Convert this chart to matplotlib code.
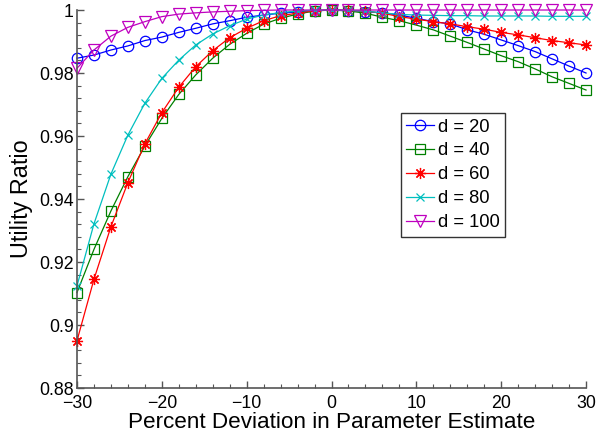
import matplotlib
matplotlib.use("Agg")
import matplotlib.pyplot as plt
from matplotlib.ticker import MultipleLocator, FixedLocator

plt.rcParams['font.family'] = ['Liberation Sans', 'DejaVu Sans']

# percent deviation in the parameter estimate
deviation = list(range(-30, 31, 2))

ratio_d20 = [0.9847, 0.9857, 0.9873, 0.9886, 0.9903, 0.9914, 0.9929, 0.9942,
             0.9956, 0.9966, 0.9977, 0.9984, 0.9990, 0.9994, 0.9998, 1.0000,
             0.9998, 0.9995, 0.9991, 0.9984, 0.9974, 0.9963, 0.9956, 0.9937,
             0.9923, 0.9905, 0.9887, 0.9868, 0.9845, 0.9822, 0.9800]
ratio_d40 = [0.9103, 0.9240, 0.9362, 0.9471, 0.9568, 0.9656, 0.9732, 0.9794,
             0.9847, 0.9891, 0.9926, 0.9955, 0.9974, 0.9987, 0.9997, 1.0000,
             0.9997, 0.9990, 0.9977, 0.9966, 0.9952, 0.9937, 0.9917, 0.9897,
             0.9876, 0.9855, 0.9836, 0.9813, 0.9788, 0.9767, 0.9746]
ratio_d60 = [0.8950, 0.9145, 0.9312, 0.9452, 0.9575, 0.9674, 0.9755, 0.9820,
             0.9871, 0.9912, 0.9942, 0.9966, 0.9982, 0.9990, 0.9998, 1.0000,
             0.9999, 0.9996, 0.9990, 0.9979, 0.9971, 0.9963, 0.9956, 0.9947,
             0.9939, 0.9929, 0.9921, 0.9912, 0.9903, 0.9896, 0.9889]
ratio_d80 = [0.9124, 0.9321, 0.9479, 0.9603, 0.9704, 0.9783, 0.9841, 0.9889,
             0.9924, 0.9950, 0.9971, 0.9984, 0.9992, 0.9997, 0.9999, 1.0000,
             0.9999, 0.9996, 0.9991, 0.9986, 0.9984, 0.9983, 0.9982, 0.9982,
             0.9981, 0.9981, 0.9981, 0.9981, 0.9980, 0.9980, 0.9980]
ratio_d100 = [0.9815, 0.9873, 0.9917, 0.9945, 0.9963, 0.9979, 0.9987, 0.9991,
              0.9994, 0.9996, 0.9998, 0.9999, 1.0000, 1.0000, 1.0000, 1.0000,
              1.0000, 1.0000, 1.0000, 1.0000, 1.0000, 1.0000, 1.0000, 1.0000,
              1.0000, 1.0000, 1.0000, 1.0000, 1.0000, 1.0000, 1.0000]

labels = ['d = 20', 'd = 40', 'd = 60', 'd = 80', 'd = 100']
series = [ratio_d20, ratio_d40, ratio_d60, ratio_d80, ratio_d100]
colors = ['#0000ff', '#008000', '#ff0000', '#00bfbf', '#bf00bf']
markers = ['o', 's', (8, 2, 0), 'x', 'v']
msizes = [7.5, 6.5, 8, 5.5, 8]

fig = plt.figure(figsize=(6.0, 4.37), dpi=100)
ax = fig.add_axes([0.1283, 0.1121, 0.8484, 0.8650])

for y, lab, c, m, ms in zip(series, labels, colors, markers, msizes):
    ax.plot(deviation, y, color=c, marker=m, markersize=ms, markerfacecolor='none',
            markeredgecolor=c, markeredgewidth=0.9, linewidth=0.9, label=lab,
            clip_on=False)

ax.set_xlim(-30, 30)
ax.set_ylim(0.88, 1.0)
ax.xaxis.set_major_locator(MultipleLocator(10))
ax.xaxis.set_minor_locator(MultipleLocator(2))
ax.yaxis.set_major_locator(FixedLocator([0.88, 0.9, 0.92, 0.94, 0.96, 0.98, 1.0]))
ax.yaxis.set_minor_locator(MultipleLocator(0.004))
ax.set_yticklabels(['0.88', '0.9', '0.92', '0.94', '0.96', '0.98', '1'])

for side in ('top', 'right'):
    ax.spines[side].set_visible(False)
for side in ('left', 'bottom'):
    ax.spines[side].set_color('#555555')
    ax.spines[side].set_linewidth(1.2)

ax.tick_params(which='both', direction='in', color='#555555', labelsize=12.8,
               labelcolor='black', top=False, right=False)
ax.tick_params(which='major', length=5, width=1.0)
ax.tick_params(which='minor', length=3, width=0.8)
ax.tick_params(axis='x', which='major', pad=5)
ax.tick_params(axis='y', which='major', pad=2.5)

ax.set_xlabel('Percent Deviation in Parameter Estimate', fontsize=16.2, labelpad=0)
ax.set_ylabel('Utility Ratio', fontsize=16.8, labelpad=4)

leg = ax.legend(loc='upper left', bbox_to_anchor=(0.6683, 0.7414),
                bbox_transform=fig.transFigure, borderaxespad=0, fontsize=13.2,
                frameon=True, fancybox=False, edgecolor='black',
                handlelength=1.5, handletextpad=0.2, labelspacing=0.38,
                borderpad=0.3)
leg.get_frame().set_linewidth(1.0)

fig.savefig('out.png', dpi=100)
